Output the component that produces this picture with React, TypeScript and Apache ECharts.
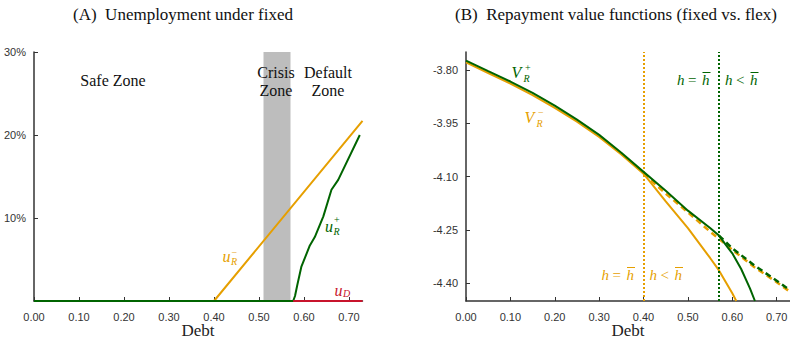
import React, { useEffect, useRef } from 'react';
import * as echarts from 'echarts';

// ---------- Panel A: unemployment under fixed ----------
const uRminusDebt = [0, 0.4, 0.73];
const uRminusVal = [0, 0, 21.7];
const uRplusDebt = [0, 0.576, 0.58, 0.585, 0.594, 0.613, 0.624, 0.643, 0.661, 0.676, 0.724];
const uRplusVal = [0, 0, 0.6, 1.9, 4.1, 6.7, 7.7, 10.2, 13.4, 14.6, 20.0];
const uDDebt = [0.576, 0.73];
const uDVal = [0, 0];
const crisisZone = [0.51, 0.57];
const xTicks = [0, 0.1, 0.2, 0.3, 0.4, 0.5, 0.6, 0.7];
const yTicksA = [10, 20, 30];

// ---------- Panel B: repayment value functions ----------
const vPlusDebt = [0, 0.05, 0.1, 0.15, 0.2, 0.25, 0.3, 0.35, 0.4, 0.45, 0.5, 0.55, 0.57, 0.59, 0.6, 0.62, 0.64, 0.651];
const vPlusVal = [-3.774, -3.804, -3.833, -3.865, -3.901, -3.94, -3.983, -4.033, -4.087, -4.14, -4.196, -4.245, -4.266, -4.3, -4.316, -4.36, -4.415, -4.45];
const vPlusFlexDebt = [0.57, 0.6, 0.65, 0.7, 0.73];
const vPlusFlexVal = [-4.266, -4.302, -4.35, -4.393, -4.42];
const vMinusDebt = [0, 0.05, 0.1, 0.15, 0.2, 0.25, 0.3, 0.35, 0.4, 0.45, 0.5, 0.55, 0.57, 0.6, 0.609];
const vMinusVal = [-3.779, -3.809, -3.839, -3.871, -3.907, -3.946, -3.989, -4.038, -4.092, -4.17, -4.245, -4.329, -4.364, -4.428, -4.45];
const vMinusFlexDebt = [0.4, 0.45, 0.5, 0.55, 0.6, 0.65, 0.7, 0.73];
const vMinusFlexVal = [-4.092, -4.148, -4.201, -4.255, -4.306, -4.355, -4.397, -4.424];
const hBarMinus = 0.4;
const hBarPlus = 0.57;
const yTicksB = [-3.8, -3.95, -4.1, -4.25, -4.4];

const ORANGE = '#E69F00';
const GREEN = '#006400';
const RED = '#C8142C';
const AXIS = '#333333';
const SERIF = '"Liberation Serif", "DejaVu Serif", serif';
const SANS = '"Liberation Sans", Arial, sans-serif';

const zip = (xs: number[], ys: number[]) => xs.map((x, i) => [x, ys[i]]);

function txt(x: number, y: number, text: string, opts: any = {}) {
  return {
    type: 'text',
    x,
    y,
    z: 100,
    silent: true,
    style: {
      text,
      fill: opts.fill || '#111',
      font: `${opts.italic ? 'italic ' : ''}${opts.size || 15}px ${SERIF}`,
      textAlign: opts.align || 'left',
      textVerticalAlign: 'middle',
    },
  };
}

function hRel(x: number, y: number, rel: string, color: string) {
  return [
    txt(x, y, 'h', { italic: true, fill: color, size: 15 }),
    txt(x + 11, y, rel, { fill: color, size: 15 }),
    txt(x + 25, y, 'h', { italic: true, fill: color, size: 15 }),
    {
      type: 'line',
      z: 100,
      silent: true,
      shape: { x1: x + 25.5, y1: y - 7.5, x2: x + 33.5, y2: y - 7.5 },
      style: { stroke: color, lineWidth: 1 },
    },
  ];
}

function axisCommon() {
  return {
    axisLine: { show: true, lineStyle: { color: AXIS, width: 1.5 } },
    axisTick: { show: true, inside: true, length: 4, lineStyle: { color: AXIS, width: 1 } },
    splitLine: { show: false },
  };
}

function xAxis(gridIndex: number) {
  const c = axisCommon();
  return {
    type: 'value',
    gridIndex,
    min: 0,
    max: 0.73,
    interval: 0.1,
    axisLine: c.axisLine,
    axisTick: { ...c.axisTick, customValues: xTicks },
    splitLine: c.splitLine,
    axisLabel: {
      customValues: xTicks,
      formatter: (v: number) => v.toFixed(2),
      fontFamily: SANS,
      fontSize: 11,
      color: '#333',
      margin: 10,
    },
  };
}

const option: any = {
  animation: false,
  grid: [
    { left: 34, top: 52, width: 328.5, height: 249, containLabel: false, outerBoundsMode: 'none' },
    { left: 466, top: 52, width: 324, height: 249, containLabel: false, outerBoundsMode: 'none' },
  ],
  xAxis: [xAxis(0), xAxis(1)],
  yAxis: [
    {
      type: 'value',
      gridIndex: 0,
      min: 0,
      max: 30,
      interval: 10,
      ...axisCommon(),
      axisTick: { ...axisCommon().axisTick, customValues: yTicksA },
      axisLabel: {
        customValues: yTicksA,
        formatter: (v: number) => `${v}%`,
        fontFamily: SANS,
        fontSize: 11,
        color: '#333',
        margin: 8,
      },
    },
    {
      type: 'value',
      gridIndex: 1,
      min: -4.45,
      max: -3.75,
      ...axisCommon(),
      axisTick: { ...axisCommon().axisTick, customValues: yTicksB },
      axisLabel: {
        customValues: yTicksB,
        formatter: (v: number) => v.toFixed(2),
        fontFamily: SANS,
        fontSize: 11,
        color: '#333',
        margin: 8,
      },
    },
  ],
  series: [
    {
      type: 'line',
      xAxisIndex: 0,
      yAxisIndex: 0,
      data: zip(uRminusDebt, uRminusVal),
      showSymbol: false,
      lineStyle: { color: ORANGE, width: 2 },
      markArea: {
        silent: true,
        itemStyle: { color: '#BDBDBD' },
        data: [[{ xAxis: crisisZone[0] }, { xAxis: crisisZone[1] }]],
      },
      z: 2,
    },
    {
      type: 'line',
      xAxisIndex: 0,
      yAxisIndex: 0,
      data: zip(uRplusDebt, uRplusVal),
      showSymbol: false,
      lineStyle: { color: GREEN, width: 2 },
      z: 3,
    },
    {
      type: 'line',
      xAxisIndex: 0,
      yAxisIndex: 0,
      data: zip(uDDebt, uDVal),
      showSymbol: false,
      lineStyle: { color: RED, width: 2 },
      z: 4,
    },
    // Panel B
    {
      type: 'line',
      xAxisIndex: 1,
      yAxisIndex: 1,
      data: zip(vMinusFlexDebt, vMinusFlexVal),
      showSymbol: false,
      lineStyle: { color: ORANGE, width: 2.5, type: [6, 4] },
      markLine: {
        silent: true,
        symbol: 'none',
        label: { show: false },
        lineStyle: { color: ORANGE, width: 2, type: [2, 2] },
        data: [{ xAxis: hBarMinus }],
      },
      z: 2,
    },
    {
      type: 'line',
      xAxisIndex: 1,
      yAxisIndex: 1,
      data: zip(vMinusDebt, vMinusVal),
      showSymbol: false,
      lineStyle: { color: ORANGE, width: 2 },
      z: 3,
    },
    {
      type: 'line',
      xAxisIndex: 1,
      yAxisIndex: 1,
      data: zip(vPlusFlexDebt, vPlusFlexVal),
      showSymbol: false,
      lineStyle: { color: GREEN, width: 2.5, type: [6, 4] },
      markLine: {
        silent: true,
        symbol: 'none',
        label: { show: false },
        lineStyle: { color: GREEN, width: 2, type: [2, 2] },
        data: [{ xAxis: hBarPlus }],
      },
      z: 4,
    },
    {
      type: 'line',
      xAxisIndex: 1,
      yAxisIndex: 1,
      data: zip(vPlusDebt, vPlusVal),
      showSymbol: false,
      lineStyle: { color: GREEN, width: 2 },
      z: 5,
    },
  ],
  graphic: [
    txt(183, 14, '(A)  Unemployment under fixed', { size: 17, align: 'center' }),
    txt(616, 14, '(B)  Repayment value functions (fixed vs. flex)', { size: 17, align: 'center' }),
    txt(198, 330, 'Debt', { size: 17, align: 'center', fill: '#222' }),
    txt(628, 330, 'Debt', { size: 17, align: 'center', fill: '#222' }),
    txt(113, 80, 'Safe Zone', { size: 16, align: 'center' }),
    txt(276, 72, 'Crisis', { size: 16, align: 'center' }),
    txt(276, 90, 'Zone', { size: 16, align: 'center' }),
    txt(328, 72, 'Default', { size: 16, align: 'center' }),
    txt(328, 90, 'Zone', { size: 16, align: 'center' }),
    // u_R^-
    txt(222.5, 256, 'u', { italic: true, fill: ORANGE, size: 16 }),
    txt(231, 261.5, 'R', { italic: true, fill: ORANGE, size: 10 }),
    txt(231.5, 252, '\u2212', { fill: ORANGE, size: 10 }),
    // u_R^+
    txt(325, 226, 'u', { italic: true, fill: GREEN, size: 16 }),
    txt(333.5, 231, 'R', { italic: true, fill: GREEN, size: 10 }),
    txt(334, 219.5, '+', { fill: GREEN, size: 10 }),
    // u_D
    txt(334.5, 290, 'u', { italic: true, fill: RED, size: 16 }),
    txt(343, 293.5, 'D', { italic: true, fill: RED, size: 10 }),
    // V_R^+
    txt(511.5, 72, 'V', { italic: true, fill: GREEN, size: 16 }),
    txt(523.5, 78.5, 'R', { italic: true, fill: GREEN, size: 10 }),
    txt(525, 67.5, '+', { fill: GREEN, size: 10 }),
    // V_R^-
    txt(524.5, 117, 'V', { italic: true, fill: ORANGE, size: 16 }),
    txt(536.5, 123.5, 'R', { italic: true, fill: ORANGE, size: 10 }),
    txt(538, 112.5, '\u2212', { fill: ORANGE, size: 10 }),
    ...hRel(677, 80, '=', GREEN),
    ...hRel(725, 80, '<', GREEN),
    ...hRel(601.5, 275, '=', ORANGE),
    ...hRel(649.5, 275, '<', ORANGE),
  ],
};

export default function App() {
  const ref = useRef<HTMLDivElement>(null);
  useEffect(() => {
    if (!ref.current) return;
    const chart = echarts.init(ref.current, null, { renderer: 'svg' });
    chart.setOption(option);
    return () => chart.dispose();
  }, []);
  return (
    <div
      ref={ref}
      style={{ position: 'absolute', left: 0, top: 0, width: 790, height: 342 }}
    />
  );
}
